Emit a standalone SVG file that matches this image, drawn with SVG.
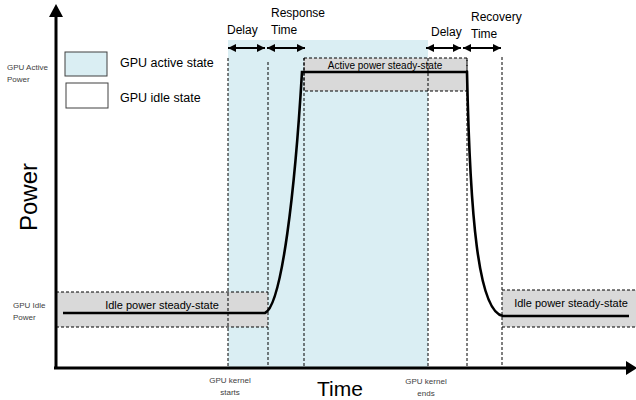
<svg xmlns="http://www.w3.org/2000/svg" width="636" height="400" viewBox="0 0 636 400">
<defs>
<marker id="ah" viewBox="0 0 10 10" refX="10" refY="5" markerWidth="4.5" markerHeight="4.5" orient="auto-start-reverse" markerUnits="strokeWidth">
<path d="M0,0 L10,5 L0,10 z" fill="#000"/>
</marker>
<style>
.t{font-family:"Liberation Sans",Arial,sans-serif;fill:#000}
.s{font-family:"Liberation Sans",Arial,sans-serif;fill:#404040}
.d{stroke:#000;stroke-width:1;stroke-dasharray:3 2;fill:none}
.g{fill:#d9d9d9}
.pw{stroke:#000;stroke-width:2.6;fill:none}
.ar{stroke:#000;stroke-width:1.8;marker-start:url(#ah);marker-end:url(#ah)}
</style>
</defs>
<rect width="636" height="400" fill="#fff"/>
<!-- active region -->
<rect id="active-region" x="228" y="40" width="200" height="327" fill="#daeef3"/>
<!-- steady state boxes -->
<g id="idle-left">
<rect class="g" x="56" y="292" width="212" height="35"/>
<line class="d" x1="56" y1="292" x2="268" y2="292"/>
<line class="d" x1="56" y1="327" x2="268" y2="327"/>
<text class="t" x="162" y="309" font-size="11" text-anchor="middle">Idle power steady-state</text>
</g>
<g id="idle-right">
<rect class="g" x="502" y="290" width="134" height="37"/>
<line class="d" x1="502" y1="290" x2="636" y2="290"/>
<line class="d" x1="502" y1="327" x2="636" y2="327"/>
<text class="t" x="571" y="307" font-size="11" text-anchor="middle">Idle power steady-state</text>
</g>
<g id="active-box">
<rect class="g" x="304" y="58" width="163" height="33"/>
<rect class="d" x="304" y="58" width="163" height="33"/>
<text class="t" x="385" y="69" font-size="10" text-anchor="middle">Active power steady-state</text>
</g>
<!-- vertical dashed markers -->
<g id="markers">
<line class="d" x1="228" y1="58" x2="228" y2="367"/>
<line class="d" x1="268" y1="62" x2="268" y2="367"/>
<line class="d" x1="304" y1="58" x2="304" y2="367"/>
<line class="d" x1="428" y1="58" x2="428" y2="367"/>
<line class="d" x1="467" y1="58" x2="467" y2="367"/>
<line class="d" x1="502" y1="57" x2="502" y2="367"/>
</g>
<!-- power curve -->
<path id="power-curve" class="pw" d="M63,313 L265,313 C282,305 295,190 302,72 L467,72 C470,215 478,312 503,316 L629,316"/>
<!-- axes -->
<g id="axes">
<line x1="56" y1="369" x2="56" y2="15" stroke="#000" stroke-width="3"/>
<polygon points="49,17 56,4 63,17" fill="#000"/>
<line x1="54" y1="368" x2="627" y2="368" stroke="#000" stroke-width="3"/>
<polygon points="626,361 637,368 626,375" fill="#000"/>
</g>
<!-- interval arrows -->
<g id="connectors">
<line class="ar" x1="228" y1="48" x2="265" y2="48"/>
<line class="ar" x1="267" y1="48" x2="305" y2="48"/>
<line class="ar" x1="426" y1="48" x2="461" y2="48"/>
<line class="ar" x1="463" y1="48" x2="501" y2="48"/>
</g>
<g id="labels">
<text class="t" x="227" y="34" font-size="12">Delay</text>
<text class="t" x="271" y="17" font-size="12">Response</text>
<text class="t" x="271" y="34" font-size="12">Time</text>
<text class="t" x="431" y="36" font-size="12">Delay</text>
<text class="t" x="471" y="21" font-size="12">Recovery</text>
<text class="t" x="471" y="38" font-size="12">Time</text>
<text class="s" x="7" y="70" font-size="8">GPU Active</text>
<text class="s" x="7" y="82" font-size="8">Power</text>
<text class="s" x="13" y="308" font-size="8">GPU Idle</text>
<text class="s" x="13" y="320" font-size="8">Power</text>
<text class="s" x="230" y="383" font-size="8" text-anchor="middle">GPU kernel</text>
<text class="s" x="230" y="395" font-size="8" text-anchor="middle">starts</text>
<text class="s" x="426" y="384" font-size="8" text-anchor="middle">GPU kernel</text>
<text class="s" x="426" y="396" font-size="8" text-anchor="middle">ends</text>
<text class="t" x="340" y="396" font-size="21" text-anchor="middle">Time</text>
<text class="t" transform="translate(37,197) rotate(-90)" font-size="24" text-anchor="middle">Power</text>
</g>
<g id="legend">
<rect x="65" y="52" width="42" height="24" fill="#daeef3" stroke="#404040" stroke-width="1"/>
<rect x="66" y="83" width="42" height="25" fill="#fff" stroke="#404040" stroke-width="1"/>
<text class="t" x="120" y="67" font-size="12.5">GPU active state</text>
<text class="t" x="120" y="102" font-size="12.5">GPU idle state</text>
</g>
</svg>
